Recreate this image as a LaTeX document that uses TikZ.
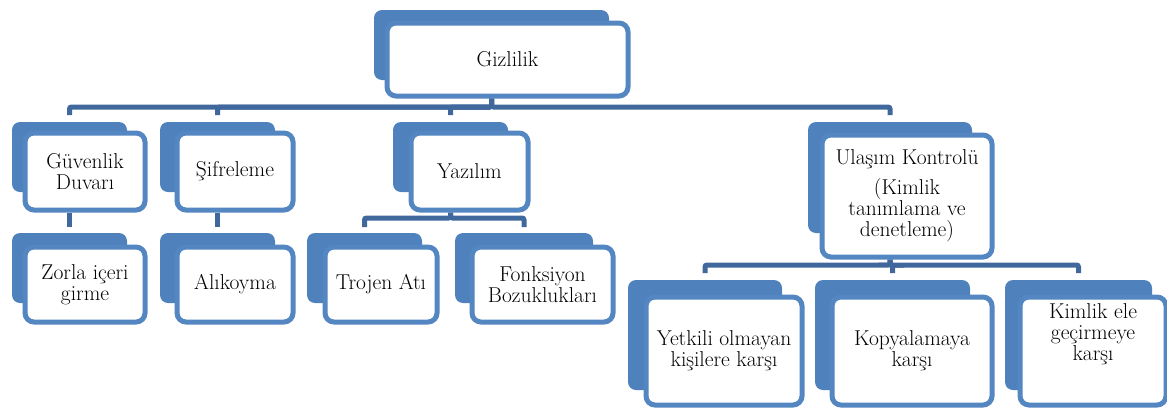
\documentclass[tikz,border=0pt]{standalone}
\usepackage{fontspec}
\usetikzlibrary{backgrounds}
\definecolor{bbl}{RGB}{79,129,189}
\definecolor{fbl}{RGB}{84,134,193}
\definecolor{cbl}{RGB}{64,104,156}
\tikzset{
  backbox/.style={draw=none, fill=bbl, rounded corners=8pt, anchor=north west, inner sep=0pt, outer sep=0pt},
  frontbox/.style={draw=fbl, line width=5pt, fill=white, rounded corners=9pt, anchor=north west, inner sep=0pt, align=center},
  conn/.style={draw=cbl, line width=5pt, rounded corners=2pt},
  lbl/.style={align=center, inner sep=0pt}
}
\begin{document}
\begin{tikzpicture}[x=1pt, y=-1pt, font=\fontsize{21.5}{21}\selectfont]
\useasboundingbox (0,0) rectangle (1167,408);
\coordinate (bar1) at (0,107);
\coordinate (bar2) at (0,218);
\coordinate (bar3) at (0,265);

% ---------- back shapes ----------
\node[backbox, minimum width=235, minimum height=70] (gizB) at (374,10) {};
\node[backbox, minimum width=115, minimum height=70] (guvB) at (12,122) {};
\node[backbox, minimum width=115, minimum height=70] (sifB) at (160,122) {};
\node[backbox, minimum width=115, minimum height=70] (yazB) at (393,122) {};
\node[backbox, minimum width=164, minimum height=111] (ulaB) at (808,122) {};
\node[backbox, minimum width=115, minimum height=70] (zorB) at (12,233) {};
\node[backbox, minimum width=115, minimum height=70] (aliB) at (160,233) {};
\node[backbox, minimum width=115, minimum height=70] (troB) at (307,233) {};
\node[backbox, minimum width=138, minimum height=70] (fonB) at (455,233) {};
\node[backbox, minimum width=154, minimum height=110] (yetB) at (628,280) {};
\node[backbox, minimum width=155, minimum height=110] (kopB) at (815,280) {};
\node[backbox, minimum width=147, minimum height=110] (kimB) at (1005,280) {};

% ---------- front shapes ----------
\node[frontbox, minimum width=241, minimum height=73] (gizF) at (384.5,20.5) {Gizlilik};
\node[frontbox, minimum width=120, minimum height=77] (guvF) at (22.5,130.5) {Güvenlik\\Duvarı};
\node[frontbox, minimum width=116, minimum height=77] (sifF) at (174.5,130.5) {Şifreleme};
\node[frontbox, minimum width=117, minimum height=77] (yazF) at (408.5,130.5) {Yazılım};
\node[frontbox, minimum width=170, minimum height=122] (ulaF) at (819.5,132.5) {Ulaşım Kontrolü\\[9pt](Kimlik\\tanımlama ve\\denetleme)};
\node[frontbox, minimum width=120, minimum height=75] (zorF) at (22.5,244.5) {Zorla içeri\\girme};
\node[frontbox, minimum width=116, minimum height=75] (aliF) at (174.5,244.5) {Alıkoyma};
\node[frontbox, minimum width=112, minimum height=75] (troF) at (322.5,244.5) {Trojen Atı};
\node[frontbox, minimum width=141, minimum height=75] (fonF) at (469.5,244.5) {Fonksiyon\\Bozuklukları};
\node[frontbox, minimum width=156, minimum height=108] (yetF) at (643.5,294.5) {Yetkili olmayan\\kişilere karşı};
\node[frontbox, minimum width=160, minimum height=108] (kopF) at (829.5,294.5) {Kopyalamaya\\karşı};
\node[frontbox, minimum width=146, minimum height=108] (kimF) at (1017.5,294.5) {};
\node[lbl, anchor=north] (kimT) at ([yshift=-9pt]kimF.north) {Kimlik ele\\geçirmeye\\karşı};

% ---------- connectors ----------
\begin{scope}[on background layer]
\foreach \c in {guvB, sifB, yazB, ulaB}
  \draw[conn, shorten >=7pt] (gizB.center |- gizF.south) -- (gizB.center |- bar1) -| (\c.north);
\draw[conn, shorten >=6pt] (guvB.center |- guvF.south) -- (zorB.north);
\draw[conn, shorten >=6pt] (sifB.center |- sifF.south) -- (aliB.north);
\foreach \c in {troB, fonB}
  \draw[conn, shorten >=6pt] (yazB.center |- yazF.south) -- (yazB.center |- bar2) -| (\c.north);
\foreach \c in {yetB, kopB, kimB}
  \draw[conn, shorten >=7pt] (ulaB.center |- ulaF.south) -- (ulaB.center |- bar3) -| (\c.north);
\end{scope}
\end{tikzpicture}
\end{document}
